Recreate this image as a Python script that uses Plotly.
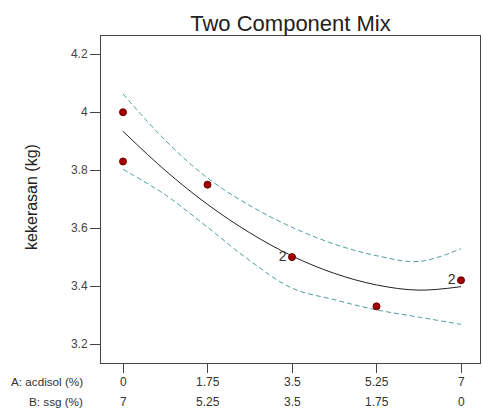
import plotly.graph_objects as go

# Observed design points
obs_a = [0, 0, 1.75, 3.5, 5.25, 7]
obs_y = [4.00, 3.83, 3.75, 3.50, 3.33, 3.42]
obs_label = ["", "", "", "2", "", "2"]

# Fitted curve and 95% CI bands
grid_a = [0, 0.875, 1.75, 2.625, 3.5, 4.375, 5.25, 6.125, 7]
fit_y = [3.934, 3.799, 3.682, 3.584, 3.504, 3.444, 3.404, 3.386, 3.398]
upper_y = [4.063, 3.903, 3.773, 3.678, 3.603, 3.545, 3.505, 3.485, 3.529]
lower_y = [3.803, 3.715, 3.603, 3.488, 3.393, 3.353, 3.318, 3.293, 3.268]

tick_a = [0, 1.75, 3.5, 5.25, 7]
tick_a_text = ["0", "1.75", "3.5", "5.25", "7"]
tick_b_text = ["7", "5.25", "3.5", "1.75", "0"]
y_ticks = [3.2, 3.4, 3.6, 3.8, 4.0, 4.2]
y_tick_text = ["3.2", "3.4", "3.6", "3.8", "4", "4.2"]

FONT = "Liberation Sans, Arial, sans-serif"
band_color = "#4f9e9e"

fig = go.Figure()
for yy in (upper_y, lower_y):
    fig.add_trace(go.Scatter(x=grid_a, y=yy, mode="lines",
                             line=dict(color=band_color, width=1, dash="5px,3px",
                                       shape="spline", smoothing=1.0),
                             hoverinfo="skip"))
fig.add_trace(go.Scatter(x=grid_a, y=fit_y, mode="lines",
                         line=dict(color="#222222", width=1, shape="spline", smoothing=1.0),
                         hoverinfo="skip"))
fig.add_trace(go.Scatter(x=obs_a, y=obs_y, mode="markers+text",
                         text=obs_label, textposition="middle left",
                         textfont=dict(family=FONT, size=14, color="#333333"),
                         marker=dict(color="#a00000", size=7,
                                     line=dict(color="#700000", width=1))))

annotations = []
for a, ta, tb in zip(tick_a, tick_a_text, tick_b_text):
    annotations.append(dict(x=a, y=-0.057, xref="x", yref="paper", text=ta,
                            showarrow=False, xanchor="center", yanchor="middle",
                            font=dict(family=FONT, size=12, color="#333333")))
    annotations.append(dict(x=a, y=-0.118, xref="x", yref="paper", text=tb,
                            showarrow=False, xanchor="center", yanchor="middle",
                            font=dict(family=FONT, size=12, color="#333333")))
annotations.append(dict(x=-0.042, y=-0.057, xref="paper", yref="paper",
                        text="A: acdisol (%)", showarrow=False, xanchor="right",
                        yanchor="middle", font=dict(family=FONT, size=11.7, color="#333333")))
annotations.append(dict(x=-0.042, y=-0.118, xref="paper", yref="paper",
                        text="B: ssg (%)", showarrow=False, xanchor="right",
                        yanchor="middle", font=dict(family=FONT, size=11.7, color="#333333")))
annotations.append(dict(x=-0.182, y=0.508, xref="paper", yref="paper",
                        text="kekerasan (kg)", showarrow=False, textangle=-90,
                        xanchor="center", yanchor="middle",
                        font=dict(family=FONT, size=16, color="#222222")))

fig.update_layout(
    width=483, height=419,
    margin=dict(l=101, r=3, t=36, b=56),
    paper_bgcolor="white", plot_bgcolor="white",
    showlegend=False,
    title=dict(text="Two Component Mix", x=0.5, xref="paper", xanchor="center",
               y=1 - 23 / 419, yref="container", yanchor="middle",
               font=dict(family=FONT, size=22, color="#222222")),
    annotations=annotations,
    xaxis=dict(range=[-0.456, 7.393], tickvals=tick_a, showticklabels=False,
               ticks="outside", ticklen=9, tickcolor="#444444",
               showgrid=False, zeroline=False,
               showline=True, linecolor="#444444", linewidth=1, mirror=True),
    yaxis=dict(range=[3.1346, 4.263], tickvals=y_ticks, ticktext=y_tick_text,
               ticks="outside", ticklen=10, tickcolor="#444444",
               tickfont=dict(family=FONT, size=12, color="#444444"),
               showgrid=False, zeroline=False,
               showline=True, linecolor="#444444", linewidth=1, mirror=True),
)

fig.write_html("out.html")
